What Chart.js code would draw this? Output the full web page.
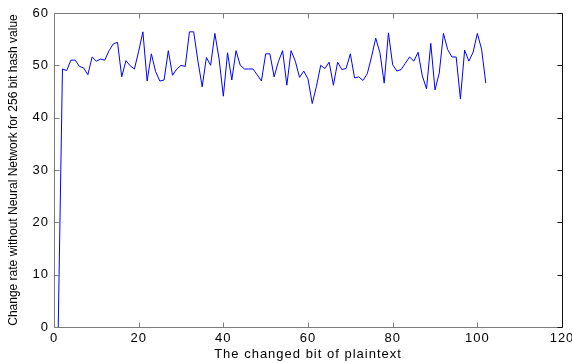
<!DOCTYPE html>
<html lang="en">
<head>
<meta charset="UTF-8">
<title>Change rate</title>
<script src="https://cdn.jsdelivr.net/npm/chart.js"></script>
<style>
  html, body { margin: 0; padding: 0; background: #fff; }
  #wrap { width: 572px; height: 363px; }
</style>
</head>
<body>
<div id="wrap"><canvas id="myChart" width="572" height="363"></canvas></div>

<script>
    // bit position that was flipped
    const changedBit = [
        1, 2, 3, 4, 5, 6, 7, 8, 9, 10, 11, 12, 13, 14, 15, 16, 17, 18, 19, 20,
        21, 22, 23, 24, 25, 26, 27, 28, 29, 30, 31, 32, 33, 34, 35, 36, 37, 38, 39, 40,
        41, 42, 43, 44, 45, 46, 47, 48, 49, 50, 51, 52, 53, 54, 55, 56, 57, 58, 59, 60,
        61, 62, 63, 64, 65, 66, 67, 68, 69, 70, 71, 72, 73, 74, 75, 76, 77, 78, 79, 80,
        81, 82, 83, 84, 85, 86, 87, 88, 89, 90, 91, 92, 93, 94, 95, 96, 97, 98, 99, 100,
        101, 102
    ];

    // change rate (%) of the hash value
    const changeRate = [
        0, 49.3, 49.0, 51.0, 51.0, 49.8, 49.5, 48.2, 51.6, 50.8,
        51.2, 51.0, 52.8, 54.1, 54.4, 47.8, 50.9, 49.9, 49.3, 52.7,
        56.4, 47.0, 52.2, 48.8, 47.0, 47.2, 52.8, 48.1, 49.3, 50.0,
        49.8, 56.4, 56.4, 50.8, 45.9, 51.5, 50.0, 56.1, 51.2, 44.1,
        52.4, 47.2, 52.8, 50.0, 49.3, 49.3, 49.3, 48.2, 47.0, 52.2,
        52.2, 47.8, 50.7, 52.8, 46.2, 52.8, 50.8, 47.7, 48.9, 47.4,
        42.7, 46.0, 50.0, 49.4, 50.6, 46.2, 50.6, 49.2, 49.4, 52.2,
        47.6, 47.8, 47.1, 48.4, 51.6, 55.2, 52.4, 46.6, 56.2, 50.1,
        48.9, 49.2, 50.4, 51.6, 50.8, 52.5, 48.0, 45.5, 54.2, 45.3,
        48.5, 56.1, 53.0, 51.6, 51.6, 43.6, 52.9, 50.8, 52.5, 56.1,
        53.1, 46.6
    ];

    const xTicks = [0, 20, 40, 60, 80, 100, 120];
    const yTicks = [0, 10, 20, 30, 40, 50, 60];
    const yTitulo = 'Change rate without Neural Network for 256 bit hash value';

    const puntos = changedBit.map((b, i) => ({ x: b, y: changeRate[i] }));

    // frame around the plot with ticks pointing inwards, plus the y title
    const caixa = {
        id: 'caixa',
        beforeDraw(chart) {
            // the axis labels are a bit loosely spaced
            chart.ctx.letterSpacing = '1px';
        },
        afterDraw(chart) {
            const { ctx, chartArea: a, scales: { x, y } } = chart;
            const L = 5;
            ctx.save();
            ctx.lineWidth = 1;
            const seg = (x1, y1, x2, y2) => {
                ctx.beginPath();
                ctx.moveTo(x1, y1);
                ctx.lineTo(x2, y2);
                ctx.stroke();
            };
            const l = Math.round(a.left) + 0.5, r = Math.round(a.right) + 0.5;
            const t = Math.round(a.top) + 0.5, b = Math.round(a.bottom) + 0.5;

            ctx.strokeStyle = '#7c7c7c';
            seg(l, t, r, t);
            seg(l, b, r, b);
            seg(l, t, l, b);
            xTicks.forEach(v => {
                const px = Math.round(x.getPixelForValue(v)) + 0.5;
                seg(px, b, px, b - L);
                seg(px, t, px, t + L);
            });
            yTicks.forEach(v => {
                const py = Math.round(y.getPixelForValue(v)) + 0.5;
                seg(l, py, l + L, py);
            });

            ctx.strokeStyle = '#111';
            seg(r, t, r, b);
            yTicks.forEach(v => {
                const py = Math.round(y.getPixelForValue(v)) + 0.5;
                seg(r, py, r - L, py);
            });

            // rotated y title
            ctx.letterSpacing = '0px';
            ctx.fillStyle = '#000';
            ctx.font = '12px "Liberation Sans"';
            ctx.textAlign = 'center';
            ctx.textBaseline = 'middle';
            ctx.translate(14, (a.top + a.bottom) / 2);
            ctx.rotate(-Math.PI / 2);
            ctx.fillText(yTitulo, 0, 0);
            ctx.restore();
        }
    };

    const ctx = document.getElementById('myChart');

    new Chart(ctx, {
        type: 'line',
        data: {
            datasets: [{
                data: puntos,
                borderColor: '#0000ff',
                borderWidth: 1,
                pointRadius: 0,
                fill: false,
                tension: 0
            }]
        },
        options: {
            responsive: false,
            animation: false,
            devicePixelRatio: 1,
            layout: { padding: { top: 13, right: 10, left: 0, bottom: 0 } },
            plugins: { legend: { display: false }, tooltip: { enabled: false } },
            scales: {
                x: {
                    type: 'linear',
                    min: 0,
                    max: 120,
                    afterBuildTicks: s => { s.ticks = xTicks.map(v => ({ value: v })); },
                    afterFit: s => { s.height = 36; s.paddingLeft = 0; s.paddingRight = 0; },
                    grid: { display: false, drawTicks: false },
                    border: { display: false },
                    ticks: {
                        color: '#000',
                        padding: 4,
                        maxRotation: 0,
                        autoSkip: false,
                        font: { family: 'Liberation Sans', size: 13 }
                    },
                    title: {
                        display: true,
                        text: 'The changed bit of plaintext',
                        color: '#000',
                        padding: { top: 0, bottom: 1 },
                        font: { family: 'Liberation Sans', size: 13 }
                    }
                },
                y: {
                    min: 0,
                    max: 60,
                    afterBuildTicks: s => { s.ticks = yTicks.map(v => ({ value: v })); },
                    afterFit: s => { s.width = 54; },
                    grid: { display: false, drawTicks: false },
                    border: { display: false },
                    ticks: {
                        color: '#000',
                        padding: 5,
                        font: { family: 'Liberation Sans', size: 13 }
                    },
                    title: { display: false }
                }
            }
        },
        plugins: [caixa]
    });
</script>
</body>
</html>
